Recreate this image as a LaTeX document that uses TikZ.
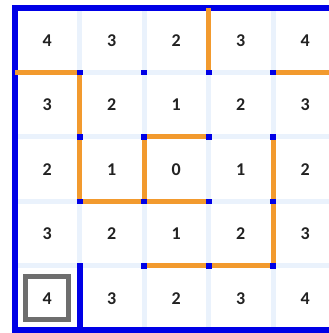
\documentclass[tikz,border=0pt]{standalone}
\usepackage{fontspec}
\setmainfont{Carlito}
\definecolor{gridlight}{HTML}{EAF2FC}
\definecolor{wallblue}{HTML}{0000E6}
\definecolor{wallorange}{HTML}{F29A2E}
\definecolor{markgray}{HTML}{6E6E6E}
\definecolor{numtext}{HTML}{222222}
\tikzset{
  gridline/.style={draw=gridlight, line width=5pt},
  border/.style={fill=wallblue, draw=none},
  wall/.style={draw=wallorange, line width=5pt},
  joint/.style={fill=wallblue, minimum width=6pt, minimum height=5.5pt, inner sep=0pt, draw=none},
  num/.style={font=\bfseries\fontsize{18}{18}\selectfont, text=numtext, inner sep=0pt},
  startmark/.style={draw=markgray, line width=5pt, minimum size=43pt, inner sep=0pt}
}
\begin{document}
\begin{tikzpicture}[x=1pt,y=1pt]
\useasboundingbox (0,0) rectangle (329,333);
\fill[white] (0,0) rectangle (329,333);
% vertices
\foreach \i in {0,...,4}{
  \foreach \j in {0,...,5}{
    \coordinate (v-\i-\j) at ({15+64.5*\i},{333-8-64.5*\j});
  }
}
\foreach \j in {0,...,5}{
  \coordinate (v-5-\j) at (329,{333-8-64.5*\j});
}
% light grid
\foreach \k in {1,...,4}{
  \draw[gridline] (v-\k-0) -- (v-\k-5);
  \draw[gridline] (v-0-\k) -- (v-5-\k);
}
% blue borders (left, top, bottom)
\fill[border] ([xshift=-3pt,yshift=-3pt]v-0-5) rectangle ([xshift=3pt,yshift=3pt]v-0-0);
\fill[border] ([xshift=-3pt,yshift=-3pt]v-0-0) rectangle ([yshift=3pt]v-5-0);
\fill[border] ([xshift=-3pt,yshift=-3pt]v-0-5) rectangle ([yshift=3pt]v-5-5);
\fill[border] ([xshift=-3pt]v-1-4) rectangle ([xshift=3pt]v-1-5);
% orange walls
\draw[wall] (v-0-1) -- (v-1-1);
\draw[wall] (v-1-1) -- (v-1-3) -- (v-3-3);
\draw[wall] (v-2-3) -- (v-2-2) -- (v-3-2);
\draw[wall] (v-3-0) -- (v-3-1);
\draw[wall] (v-4-1) -- (v-5-1);
\draw[wall] (v-4-2) -- (v-4-4) -- (v-2-4);
% joints
\foreach \i in {1,...,4}{
  \foreach \j in {1,...,4}{
    \node[joint] (j-\i-\j) at (v-\i-\j) {};
  }
}
% numbers
\foreach \r/\vals in {0/{4,3,2,3,4},1/{3,2,1,2,3},2/{2,1,0,1,2},3/{3,2,1,2,3},4/{4,3,2,3,4}}{
  \foreach \v [count=\c from 0] in \vals {
    \node[num] (c-\c-\r) at ({15+64.5*(\c+0.5)},{333-8-64.5*(\r+0.5)}) {\v};
  }
}
% start marker
\node[startmark] (start) at (c-0-4) {};
\end{tikzpicture}
\end{document}
